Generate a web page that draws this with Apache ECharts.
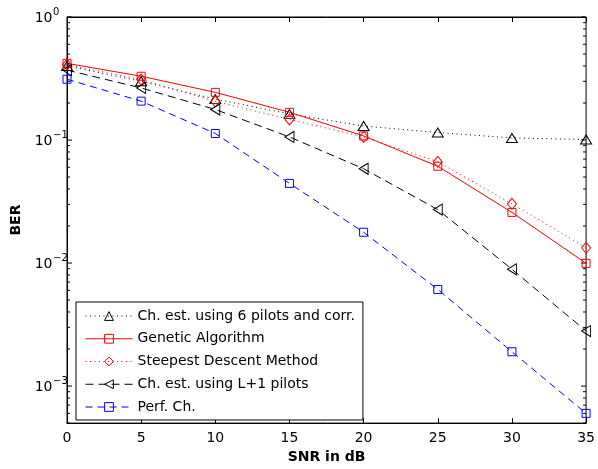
<!DOCTYPE html>
<html>
<head>
<meta charset="utf-8">
<style>
  html, body { margin: 0; padding: 0; background: #fff; }
  #chart { width: 598px; height: 469px; }
</style>
<script src="https://cdn.jsdelivr.net/npm/echarts@6/dist/echarts.min.js"></script>
</head>
<body>
<div id="chart"></div>
<script>
// SNR points (dB)
const snr = [0, 5, 10, 15, 20, 25, 30, 35];

// Bit error rate per method
const berSixPilotsCorr = [0.40, 0.30, 0.215, 0.163, 0.130, 0.115, 0.104, 0.101];
const berGenetic       = [0.42, 0.33, 0.244, 0.168, 0.108, 0.0612, 0.0258, 0.00995];
const berSteepest      = [0.41, 0.31, 0.206, 0.147, 0.106, 0.0665, 0.0303, 0.0133];
const berLPlusOne      = [0.37, 0.265, 0.177, 0.106, 0.0584, 0.0272, 0.0089, 0.0028];
const berPerfect       = [0.312, 0.207, 0.113, 0.0444, 0.0178, 0.0061, 0.0019, 0.0006];

const seriesNames = [
  'Ch. est. using 6 pilots and corr.',
  'Genetic Algorithm',
  'Steepest Descent Method',
  'Ch. est. using L+1 pilots',
  'Perf. Ch.'
];

// y-axis decades that carry a label (exponents of 10)
const decadeExponents = [0, -1, -2, -3];
const yMin = 0.0005;
const yMax = 1;

const FONT = 'DejaVu Sans';

function pairs(ys) {
  return snr.map((x, i) => [x, ys[i]]);
}

function lineSeries(name, ys, color, dash, symbol, size, rotate) {
  return {
    name: name,
    type: 'line',
    data: pairs(ys),
    symbol: symbol,
    symbolSize: size,
    symbolRotate: rotate || 0,
    lineStyle: { color: color, width: 1, type: dash },
    itemStyle: { color: 'rgba(0,0,0,0)', borderColor: color, borderWidth: 1 },
    emphasis: { disabled: true },
    animation: false
  };
}

const chart = echarts.init(document.getElementById('chart'), null, { renderer: 'canvas' });

const option = {
  backgroundColor: '#fff',
  animation: false,
  grid: {
    left: 67, right: 9, top: 17, bottom: 41,
    show: true, borderColor: '#000', borderWidth: 1, backgroundColor: '#fff'
  },
  xAxis: [{
    type: 'value', min: 0, max: 35, interval: 5, position: 'bottom',
    axisLine: { show: true, lineStyle: { color: '#000', width: 1 } },
    axisTick: { show: true, inside: true, length: 5, lineStyle: { color: '#000' } },
    axisLabel: { show: true, color: '#000', fontFamily: FONT, fontSize: 14, margin: 8 },
    splitLine: { show: false },
    name: 'SNR in dB', nameLocation: 'middle', nameGap: 26,
    nameTextStyle: { color: '#000', fontFamily: FONT, fontSize: 14, fontWeight: 'bold' }
  }, {
    type: 'value', min: 0, max: 35, interval: 5, position: 'top',
    axisLine: { show: true, lineStyle: { color: '#000', width: 1 } },
    axisTick: { show: true, inside: true, length: 5, lineStyle: { color: '#000' } },
    axisLabel: { show: false },
    splitLine: { show: false }
  }],
  yAxis: [{
    type: 'log', logBase: 10, min: yMin, max: yMax,
    axisLine: { show: true, lineStyle: { color: '#000', width: 1 } },
    axisTick: { show: false },
    axisLabel: { show: false },
    splitLine: { show: false }
  }],
  legend: {
    orient: 'vertical', left: 76, top: 302,
    padding: [6, 8, 5, 9],
    itemWidth: 47, itemHeight: 11, itemGap: 6.75,
    borderColor: '#000', borderWidth: 1, borderRadius: 0,
    backgroundColor: '#fff',
    itemStyle: { borderWidth: 1 },
    lineStyle: { width: 1 },
    textStyle: { fontFamily: FONT, fontSize: 14, color: '#000', lineHeight: 16 },
    selectedMode: false,
    data: seriesNames
  },
  series: [
    lineSeries(seriesNames[0], berSixPilotsCorr, '#000000', [1, 3.5], 'triangle', [11, 9]),
    lineSeries(seriesNames[1], berGenetic, '#ff0000', 'solid', 'rect', 8),
    lineSeries(seriesNames[2], berSteepest, '#ff0000', [1, 3.5], 'diamond', [9, 11]),
    lineSeries(seriesNames[3], berLPlusOne, '#000000', [8, 5], 'triangle', [11, 9], 90),
    lineSeries(seriesNames[4], berPerfect, '#0000ff', [7, 5], 'rect', 8)
  ]
};

chart.setOption(option);

// Log-axis ticks (major + minor, both sides) and 10^k labels, placed through the y scale
const gridRect = chart.getModel().getComponent('grid', 0).coordinateSystem.getRect();
const leftX = gridRect.x;
const rightX = gridRect.x + gridRect.width;
const graphics = [];

for (let k = -4; k <= 0; k++) {
  for (let m = 1; m <= 9; m++) {
    const v = m * Math.pow(10, k);
    if (v < yMin - 1e-12 || v > yMax + 1e-12) continue;
    const y = chart.convertToPixel({ yAxisIndex: 0 }, v);
    const len = m === 1 ? 5 : 3;
    graphics.push({
      type: 'line', silent: true,
      shape: { x1: leftX, y1: y, x2: leftX + len, y2: y },
      style: { stroke: '#000', lineWidth: 1 }
    });
    graphics.push({
      type: 'line', silent: true,
      shape: { x1: rightX, y1: y, x2: rightX - len, y2: y },
      style: { stroke: '#000', lineWidth: 1 }
    });
  }
}

decadeExponents.forEach(function (e) {
  const y = chart.convertToPixel({ yAxisIndex: 0 }, Math.pow(10, e));
  graphics.push({
    type: 'text', silent: true, x: leftX - 14.5, y: y + 1,
    style: {
      text: '10', font: '14px ' + FONT, fill: '#000',
      align: 'right', verticalAlign: 'middle'
    }
  });
  graphics.push({
    type: 'text', silent: true, x: leftX - 14, y: y - 5,
    style: {
      text: e === 0 ? '0' : '\u2212' + Math.abs(e), font: '10px ' + FONT, fill: '#000',
      align: 'left', verticalAlign: 'middle'
    }
  });
});

graphics.push({
  type: 'text', silent: true, x: 16, y: gridRect.y + gridRect.height / 2,
  rotation: Math.PI / 2,
  style: {
    text: 'BER', font: 'bold 14px ' + FONT, fill: '#000',
    align: 'center', verticalAlign: 'middle'
  }
});

chart.setOption({ graphic: { elements: graphics } });
</script>
</body>
</html>
